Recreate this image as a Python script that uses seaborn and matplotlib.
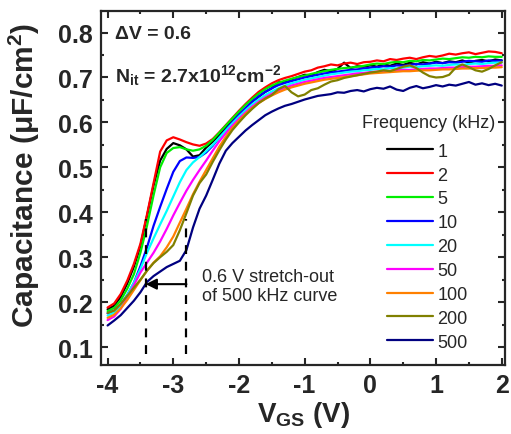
import numpy as np
import pandas as pd
import matplotlib
matplotlib.use("Agg")
import matplotlib.pyplot as plt
import seaborn as sns
from matplotlib.ticker import MultipleLocator

# gate voltage sweep (V)
vgs = [-4.0, -3.9, -3.8, -3.7, -3.6, -3.5, -3.4, -3.3, -3.2, -3.1,
       -3.0, -2.9, -2.8, -2.7, -2.6, -2.5, -2.4, -2.3, -2.2, -2.1,
       -2.0, -1.9, -1.8, -1.7, -1.6, -1.5, -1.4, -1.3, -1.2, -1.1,
       -1.0, -0.9, -0.8, -0.7, -0.6, -0.5, -0.4, -0.3, -0.2, -0.1,
       0.0, 0.1, 0.2, 0.3, 0.4, 0.5, 0.6, 0.7, 0.8, 0.9,
       1.0, 1.1, 1.2, 1.3, 1.4, 1.5, 1.6, 1.7, 1.8, 1.9, 2.0]

freqs = ["1", "2", "5", "10", "20", "50", "100", "200", "500"]
colors = ["#000000", "#ff0000", "#00ee00", "#0000ff", "#00ffff",
          "#ff00ff", "#ff8000", "#808000", "#000080"]

# capacitance (uF/cm2)
c_1k = [0.184, 0.192, 0.212, 0.242, 0.279, 0.325, 0.392, 0.460, 0.515, 0.541,
        0.554, 0.549, 0.540, 0.524, 0.527, 0.544, 0.557, 0.572, 0.588, 0.603,
        0.618, 0.631, 0.646, 0.657, 0.668, 0.676, 0.689, 0.690, 0.696, 0.701,
        0.706, 0.705, 0.712, 0.717, 0.714, 0.719, 0.733, 0.721, 0.725, 0.724,
        0.727, 0.724, 0.729, 0.726, 0.731, 0.728, 0.733, 0.729, 0.734, 0.731,
        0.735, 0.732, 0.736, 0.734, 0.738, 0.733, 0.737, 0.739, 0.736, 0.740, 0.738]
c_2k = [0.188, 0.197, 0.218, 0.248, 0.285, 0.330, 0.395, 0.465, 0.535, 0.560,
        0.567, 0.562, 0.556, 0.551, 0.548, 0.553, 0.563, 0.578, 0.594, 0.610,
        0.626, 0.641, 0.655, 0.668, 0.678, 0.687, 0.694, 0.699, 0.703, 0.708,
        0.713, 0.716, 0.722, 0.725, 0.729, 0.727, 0.731, 0.733, 0.730, 0.734,
        0.735, 0.738, 0.736, 0.741, 0.739, 0.742, 0.744, 0.741, 0.745, 0.748,
        0.746, 0.749, 0.753, 0.751, 0.754, 0.756, 0.752, 0.755, 0.758, 0.757, 0.754]
c_5k = [0.180, 0.187, 0.204, 0.230, 0.262, 0.310, 0.370, 0.438, 0.500, 0.532,
        0.543, 0.545, 0.540, 0.537, 0.540, 0.548, 0.561, 0.577, 0.593, 0.609,
        0.624, 0.639, 0.652, 0.664, 0.674, 0.682, 0.688, 0.693, 0.697, 0.701,
        0.704, 0.708, 0.711, 0.714, 0.717, 0.719, 0.721, 0.722, 0.724, 0.726,
        0.729, 0.731, 0.730, 0.733, 0.735, 0.734, 0.737, 0.736, 0.739, 0.738,
        0.740, 0.742, 0.741, 0.743, 0.745, 0.744, 0.746, 0.745, 0.747, 0.746, 0.746]
c_10k = [0.175, 0.181, 0.195, 0.216, 0.243, 0.280, 0.322, 0.370, 0.412, 0.452,
         0.490, 0.514, 0.522, 0.521, 0.523, 0.533, 0.548, 0.566, 0.584, 0.601,
         0.617, 0.632, 0.646, 0.658, 0.668, 0.676, 0.683, 0.688, 0.692, 0.696,
         0.700, 0.703, 0.706, 0.709, 0.711, 0.713, 0.715, 0.717, 0.718, 0.720,
         0.722, 0.723, 0.725, 0.724, 0.727, 0.726, 0.728, 0.730, 0.729, 0.731,
         0.733, 0.732, 0.734, 0.733, 0.735, 0.737, 0.736, 0.735, 0.738, 0.737, 0.738]
c_20k = [0.170, 0.177, 0.193, 0.216, 0.243, 0.274, 0.310, 0.342, 0.373, 0.403,
         0.435, 0.467, 0.494, 0.511, 0.523, 0.536, 0.550, 0.566, 0.582, 0.598,
         0.613, 0.627, 0.640, 0.651, 0.661, 0.669, 0.676, 0.682, 0.687, 0.691,
         0.695, 0.698, 0.701, 0.704, 0.707, 0.709, 0.711, 0.713, 0.714, 0.716,
         0.717, 0.719, 0.718, 0.721, 0.720, 0.722, 0.724, 0.723, 0.725, 0.726,
         0.727, 0.726, 0.728, 0.729, 0.728, 0.730, 0.731, 0.730, 0.732, 0.733, 0.733]
c_50k = [0.160, 0.168, 0.185, 0.210, 0.238, 0.266, 0.288, 0.310, 0.335, 0.363,
         0.393, 0.421, 0.448, 0.472, 0.494, 0.515, 0.537, 0.558, 0.576, 0.593,
         0.608, 0.622, 0.635, 0.646, 0.656, 0.664, 0.671, 0.677, 0.682, 0.686,
         0.690, 0.693, 0.696, 0.699, 0.701, 0.703, 0.705, 0.707, 0.709, 0.710,
         0.712, 0.713, 0.714, 0.715, 0.716, 0.717, 0.717, 0.718, 0.719, 0.720,
         0.720, 0.721, 0.722, 0.722, 0.723, 0.724, 0.724, 0.725, 0.726, 0.726, 0.727]
c_100k = [0.165, 0.172, 0.186, 0.205, 0.227, 0.249, 0.270, 0.288, 0.302, 0.322,
          0.346, 0.377, 0.408, 0.440, 0.468, 0.494, 0.520, 0.546, 0.568, 0.588,
          0.604, 0.619, 0.632, 0.643, 0.652, 0.660, 0.667, 0.673, 0.678, 0.682,
          0.686, 0.689, 0.692, 0.695, 0.697, 0.699, 0.701, 0.703, 0.705, 0.707,
          0.709, 0.710, 0.711, 0.712, 0.713, 0.714, 0.714, 0.715, 0.716, 0.716,
          0.717, 0.718, 0.718, 0.719, 0.720, 0.720, 0.721, 0.721, 0.722, 0.722, 0.723]
c_200k = [0.176, 0.181, 0.196, 0.214, 0.232, 0.250, 0.270, 0.287, 0.300, 0.312,
          0.327, 0.360, 0.398, 0.437, 0.465, 0.484, 0.512, 0.538, 0.562, 0.583,
          0.600, 0.616, 0.630, 0.643, 0.653, 0.661, 0.674, 0.681, 0.667, 0.658,
          0.662, 0.672, 0.676, 0.684, 0.691, 0.694, 0.699, 0.702, 0.705, 0.708,
          0.711, 0.713, 0.716, 0.714, 0.719, 0.724, 0.727, 0.721, 0.711, 0.703,
          0.700, 0.701, 0.706, 0.722, 0.729, 0.723, 0.716, 0.713, 0.719, 0.727, 0.734]
c_500k = [0.148, 0.159, 0.171, 0.187, 0.203, 0.222, 0.245, 0.258, 0.268, 0.278,
          0.285, 0.292, 0.316, 0.366, 0.408, 0.437, 0.472, 0.508, 0.537, 0.554,
          0.568, 0.582, 0.594, 0.605, 0.616, 0.624, 0.631, 0.637, 0.641, 0.646,
          0.651, 0.655, 0.659, 0.661, 0.663, 0.667, 0.666, 0.670, 0.672, 0.669,
          0.674, 0.677, 0.675, 0.680, 0.673, 0.670, 0.677, 0.681, 0.676, 0.679,
          0.683, 0.680, 0.684, 0.682, 0.686, 0.690, 0.684, 0.687, 0.683, 0.686, 0.682]

curves = [c_1k, c_2k, c_5k, c_10k, c_20k, c_50k, c_100k, c_200k, c_500k]

# stretch-out annotation (V, uF/cm2)
stretch_left = -3.42
stretch_right = -2.80
dash_bottom = 0.085
dash_top = 0.385
arrow_y = 0.24

# long-format table for seaborn
df = pd.concat([pd.DataFrame({"VGS": vgs, "C": c, "freq": f})
                for f, c in zip(freqs, curves)], ignore_index=True)

sns.set_style("ticks")
plt.rcParams['font.family'] = ['Liberation Sans', 'DejaVu Sans']
plt.rcParams['axes.unicode_minus'] = False
plt.rcParams['mathtext.fontset'] = 'custom'
plt.rcParams['mathtext.rm'] = 'Liberation Sans:bold'
plt.rcParams['mathtext.it'] = 'Liberation Sans:bold'
plt.rcParams['mathtext.bf'] = 'Liberation Sans:bold'

fig = plt.figure(figsize=(5.11, 4.35), dpi=100)
ax = fig.add_axes([0.1977, 0.1586, 0.7906, 0.8138])

sns.lineplot(data=df, x="VGS", y="C", hue="freq", hue_order=freqs,
             palette=dict(zip(freqs, colors)), estimator=None,
             linewidth=1.6, legend=False, ax=ax)

# dashed guides + arrow
for xv in [stretch_left, stretch_right]:
    ax.plot([xv, xv], [dash_bottom, dash_top], color="black", lw=1.6,
            ls=(0, (4, 3.5)))
ax.annotate("", xy=(stretch_left, arrow_y), xytext=(stretch_right, arrow_y),
            arrowprops=dict(arrowstyle="-|>", color="black", lw=1.5,
                            mutation_scale=16, shrinkA=0, shrinkB=0))
ax.text(-2.56, 0.235, "0.6 V stretch-out\nof 500 kHz curve", fontsize=13,
        va="center", ha="left", linespacing=1.15)

ax.text(0.035, 0.96, "ΔV = 0.6", transform=ax.transAxes, fontsize=14,
        fontweight="bold", va="top")
ax.text(0.035, 0.855, r"N$_{it}$ = 2.7x10$^{12}$cm$^{-2}$", transform=ax.transAxes,
        fontsize=14, fontweight="bold", va="top")

ax.set_xlim(-4.1, 2.05)
ax.set_ylim(0.06, 0.848)
ax.xaxis.set_major_locator(MultipleLocator(1))
ax.xaxis.set_minor_locator(MultipleLocator(0.5))
ax.yaxis.set_major_locator(MultipleLocator(0.1))
ax.yaxis.set_minor_locator(MultipleLocator(0.05))
ax.tick_params(which="both", direction="in", top=True, right=True, width=1.5)
ax.tick_params(which="major", length=5, labelsize=18, pad=6)
ax.tick_params(which="minor", length=2.5)
for lab in ax.get_xticklabels() + ax.get_yticklabels():
    lab.set_fontweight("bold")
for sp in ax.spines.values():
    sp.set_linewidth(1.6)

ax.set_xlabel(r"V$_{GS}$ (V)", fontsize=20, fontweight="bold", labelpad=1)
ax.set_ylabel(r"Capacitance ($\mu$F/cm$^2$)", fontsize=21.5, fontweight="bold")
ax.yaxis.set_label_coords(-0.145, 0.54)

# legend with separate title text
ax.legend(handles=ax.lines[:9], labels=freqs, loc="upper left",
          bbox_to_anchor=(0.708, 0.628), frameon=False, fontsize=13,
          handlelength=2.55, handletextpad=0.25, labelspacing=0.38,
          borderpad=0, borderaxespad=0)
ax.text(0.975, 0.686, "Frequency (kHz)", transform=ax.transAxes, fontsize=13,
        ha="right", va="center")

fig.savefig("out.png", dpi=100)
